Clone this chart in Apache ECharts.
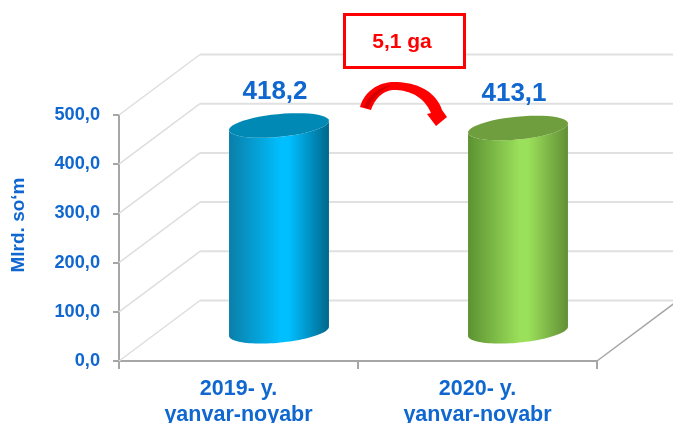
<!DOCTYPE html>
<html>
<head>
<meta charset="utf-8">
<style>
  html, body { margin: 0; padding: 0; background: #fff; }
  #chart-container { width: 673px; height: 423px; }
</style>
<script src="https://cdn.jsdelivr.net/npm/echarts@6/dist/echarts.min.js"></script>
</head>
<body>
<div id="chart-container"></div>
<script>
// Data
const categories = ["2019- y.\nyanvar-noyabr", "2020- y.\nyanvar-noyabr"];
const values = [418.2, 413.1];
const yTicks = [0, 100, 200, 300, 400, 500];
const axisName = "Mlrd. so‘m";
const differenceLabel = "5,1 ga";

// Look of the fake 3D box and cylinders
const depthX = 81;
const depthY = -60.5;
const tilt = -5.5 * Math.PI / 180;
const blue = "#0f67cf";
const fontFamily = "'Liberation Sans', Arial, sans-serif";
const barColors = [
  { left: "#0a7ea8", mid: "#00bfff", right: "#00678c", top: "#0089b5" },
  { left: "#5c9232", mid: "#9be05a", right: "#628f36", top: "#6f9e3e" }
];

function formatValue(v) {
  return v.toFixed(1).replace(".", ",");
}

// Points along a tilted ellipse between two angles
function ellipsePoints(cx, cy, rx, ry, from, to) {
  const pts = [];
  for (let i = 0; i <= 48; i++) {
    const t = from + (to - from) * i / 48;
    pts.push([
      cx + rx * Math.cos(t) * Math.cos(tilt) - ry * Math.sin(t) * Math.sin(tilt),
      cy + rx * Math.cos(t) * Math.sin(tilt) + ry * Math.sin(t) * Math.cos(tilt)
    ]);
  }
  return pts;
}

// Sample a cubic bezier into polygon points, the graphic component has no path type
function bezier(p0, p1, p2, p3) {
  const pts = [];
  for (let i = 0; i <= 20; i++) {
    const t = i / 20;
    const u = 1 - t;
    pts.push([
      u * u * u * p0[0] + 3 * u * u * t * p1[0] + 3 * u * t * t * p2[0] + t * t * t * p3[0],
      u * u * u * p0[1] + 3 * u * u * t * p1[1] + 3 * u * t * t * p2[1] + t * t * t * p3[1]
    ]);
  }
  return pts;
}

const arrowPoints = [].concat(
  bezier([360, 107], [364, 92], [378, 82], [394, 82]),
  bezier([394, 82], [418, 82], [436, 92], [442, 110]),
  [[447, 117], [436, 126], [427, 114], [431, 113]],
  bezier([431, 113], [425, 99], [412, 90], [394, 90]),
  bezier([394, 90], [384, 90], [375, 98], [371, 110])
);

// Darker fold on the left part of the arrow
const arrowFoldPoints = [].concat(
  bezier([364, 107], [368, 96], [378, 87], [392, 85]),
  bezier([392, 85], [381, 90], [373, 98], [368, 108])
);

function renderWall(params, api) {
  const sys = params.coordSys;
  const y = api.coord([0, api.value(0)])[1];
  const isFloor = api.value(0) === 0;
  const line = { stroke: "#dedede", lineWidth: 1.5 };
  const children = [
    { type: "line", shape: { x1: sys.x, y1: y, x2: sys.x + depthX, y2: y + depthY }, style: line },
    { type: "line", shape: { x1: sys.x + depthX, y1: y + depthY, x2: sys.x + sys.width + depthX, y2: y + depthY }, style: { stroke: "#e0e0e0", lineWidth: 2 } }
  ];
  if (isFloor) {
    children.push({
      type: "line",
      shape: { x1: sys.x + sys.width, y1: y, x2: sys.x + sys.width + depthX, y2: y + depthY },
      style: { stroke: "#a6a6a6", lineWidth: 1.5 }
    });
  }
  return { type: "group", children: children };
}

function renderCylinder(params, api) {
  const base = api.coord([api.value(0), 0]);
  const top = api.coord([api.value(0), api.value(1)]);
  const rx = api.size([1, 0])[0] * 0.21;
  const ry = 11.4;
  const cx = base[0] + depthX / 2;
  const offsetY = depthY / 2 + 0.5;
  const c = barColors[params.dataIndex];
  const side = ellipsePoints(cx, base[1] + offsetY, rx, ry, 0, Math.PI)
    .concat(ellipsePoints(cx, top[1] + offsetY, rx, ry, Math.PI, 0));
  return {
    type: "group",
    children: [
      {
        type: "polygon",
        shape: { points: side },
        style: {
          fill: new echarts.graphic.LinearGradient(0, 0, 1, 0, [
            { offset: 0, color: c.left },
            { offset: 0.52, color: c.mid },
            { offset: 0.6, color: c.mid },
            { offset: 1, color: c.right }
          ])
        }
      },
      {
        type: "polygon",
        shape: { points: ellipsePoints(cx, top[1] + offsetY, rx, ry, 0, 2 * Math.PI) },
        style: { fill: c.top }
      },
      {
        type: "text",
        style: {
          text: formatValue(api.value(1)),
          x: cx - 4,
          y: top[1] + offsetY - 34,
          align: "center",
          verticalAlign: "middle",
          fill: blue,
          font: "bold 26px " + fontFamily
        }
      }
    ]
  };
}

const dom = document.getElementById("chart-container");
const myChart = echarts.init(dom, null, { renderer: "canvas" });

const option = {
  animation: false,
  backgroundColor: "#fff",
  grid: { left: 119, right: 76, top: 115, bottom: 62, outerBoundsMode: "none" },
  xAxis: {
    type: "category",
    data: categories,
    axisLine: { lineStyle: { color: "#a6a6a6", width: 2 } },
    axisTick: { show: true, length: 8, lineStyle: { color: "#a6a6a6", width: 2 } },
    axisLabel: {
      color: blue,
      fontFamily: fontFamily,
      fontWeight: "bold",
      fontSize: 21.5,
      lineHeight: 26,
      margin: 15
    }
  },
  yAxis: {
    type: "value",
    min: 0,
    max: 500,
    interval: 100,
    axisLine: { show: true, lineStyle: { color: "#a6a6a6", width: 2 } },
    axisTick: { show: true, length: 6, lineStyle: { color: "#a6a6a6", width: 2 } },
    splitLine: { show: false },
    axisLabel: {
      color: blue,
      fontFamily: fontFamily,
      fontWeight: "bold",
      fontSize: 18.2,
      margin: 19,
      padding: [5, 0, 0, 0],
      formatter: formatValue
    }
  },
  series: [
    {
      type: "custom",
      name: "walls",
      coordinateSystem: "cartesian2d",
      clip: false,
      silent: true,
      z: 1,
      encode: { y: 0 },
      data: yTicks,
      renderItem: renderWall
    },
    {
      type: "custom",
      name: "cylinders",
      coordinateSystem: "cartesian2d",
      clip: false,
      z: 3,
      encode: { x: 0, y: 1 },
      data: values.map(function (v, i) { return [i, v]; }),
      renderItem: renderCylinder
    }
  ],
  graphic: [
    {
      type: "text",
      z: 5,
      rotation: Math.PI / 2,
      x: 19,
      y: 225,
      style: {
        text: axisName,
        align: "center",
        verticalAlign: "middle",
        fill: blue,
        font: "bold 19px " + fontFamily
      }
    },
    {
      type: "rect",
      z: 5,
      shape: { x: 344.5, y: 14.5, width: 120, height: 53 },
      style: { fill: "#fff", stroke: "#ff0000", lineWidth: 3 }
    },
    {
      type: "text",
      z: 6,
      x: 402,
      y: 42,
      style: {
        text: differenceLabel,
        align: "center",
        verticalAlign: "middle",
        fill: "#ff0000",
        font: "bold 21px " + fontFamily
      }
    },
    {
      type: "polygon",
      z: 5,
      shape: { points: arrowPoints },
      style: { fill: "#ff0000" }
    },
    {
      type: "polygon",
      z: 6,
      shape: { points: arrowFoldPoints },
      style: { fill: "#d40000" }
    }
  ]
};

myChart.setOption(option);
window.addEventListener("resize", myChart.resize);
</script>
</body>
</html>
